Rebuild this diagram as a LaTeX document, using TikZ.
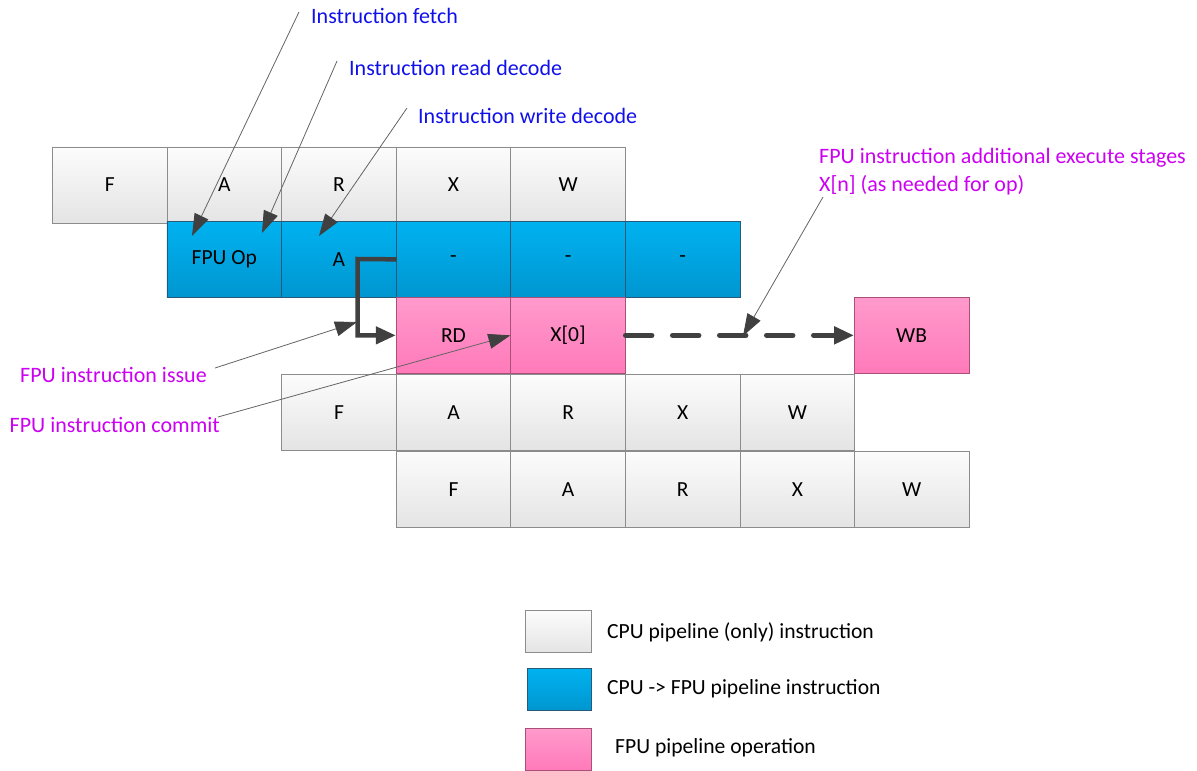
\documentclass[tikz,border=0pt]{standalone}
\usepackage{fontspec}
\setmainfont{Carlito}
\usetikzlibrary{arrows.meta}

\definecolor{cellline}{RGB}{140,140,140}
\definecolor{greytop}{RGB}{252,252,252}
\definecolor{greybot}{RGB}{228,228,228}
\definecolor{bluetop}{RGB}{0,178,240}
\definecolor{bluebot}{RGB}{0,150,208}
\definecolor{blueline}{RGB}{40,90,120}
\definecolor{pinktop}{RGB}{255,154,204}
\definecolor{pinkbot}{RGB}{255,122,186}
\definecolor{pinkline}{RGB}{170,80,120}
\definecolor{stagetxt}{RGB}{16,16,235}
\definecolor{fputxt}{RGB}{204,0,242}
\definecolor{arrowdark}{RGB}{64,64,64}
\definecolor{leader}{RGB}{100,100,100}

\tikzset{
  cellbase/.style={rectangle, inner sep=0pt, minimum width=114.6pt, minimum height=76pt,
                   font=\fontsize{21.5}{26}\selectfont, anchor=north west},
  cpucell/.style={cellbase, draw=cellline, line width=0.9pt, top color=greytop, bottom color=greybot},
  fpuicell/.style={cellbase, draw=blueline, line width=0.7pt, top color=bluetop, bottom color=bluebot},
  fpucell/.style={cellbase, draw=pinkline, line width=0.7pt, top color=pinktop, bottom color=pinkbot},
  stagelabel/.style={text=stagetxt, font=\fontsize{22}{28}\selectfont, inner sep=0pt, anchor=west},
  fpulabel/.style={text=fputxt, font=\fontsize{22}{28}\selectfont, inner sep=0pt},
  legendtxt/.style={font=\fontsize{21.6}{26}\selectfont, inner sep=0pt, anchor=west},
  leaderline/.style={draw=leader, line width=0.8pt,
                     -{Triangle[length=22pt,width=15pt,fill=arrowdark,color=arrowdark]}},
  flowline/.style={draw=arrowdark, line width=4.5pt,
                   -{Triangle[length=20pt,width=17pt,fill=arrowdark,color=arrowdark]}},
  pendingline/.style={draw=arrowdark, line width=5.5pt, line cap=round,
                      dash pattern=on 26pt off 21pt,
                      -{Triangle[length=20pt,width=17pt,fill=arrowdark,color=arrowdark]}},
}

\begin{document}
\begin{tikzpicture}[x=1pt, y=-1pt]
\useasboundingbox (0,0) rectangle (1197,771);

% CPU pipeline: the instruction ahead
\node[cpucell] (aF) at (52,146.5) {F};
\node[cpucell] (aA) at (166.6,146.5) {A};
\node[cpucell] (aR) at (281.2,146.5) {R};
\node[cpucell] (aX) at (395.8,146.5) {X};
\node[cpucell] (aW) at (510.4,146.5) {W};

% CPU -> FPU instruction
\node[fpuicell] (bOp) at (166.6,221) {FPU Op};
\node[fpuicell] (bA)  at (281.2,221) {A};
\node[fpuicell] (b3)  at (395.8,221) {-};
\node[fpuicell] (b4)  at (510.4,221) {-};
\node[fpuicell] (b5)  at (625,221) {-};

% FPU pipeline operation
\node[fpucell] (rd) at (395.8,297) {RD};
\node[fpucell] (x0) at (510.4,297) {X[0]};
\node[fpucell] (wb) at (854,297) {WB};

% following CPU instructions
\node[cpucell] (cF) at (281.2,374) {F};
\node[cpucell] (cA) at (395.8,374) {A};
\node[cpucell] (cR) at (510.4,374) {R};
\node[cpucell] (cX) at (625,374) {X};
\node[cpucell] (cW) at (739.6,374) {W};

\node[cpucell] (dF) at (395.8,451) {F};
\node[cpucell] (dA) at (510.4,451) {A};
\node[cpucell] (dR) at (625,451) {R};
\node[cpucell] (dX) at (739.6,451) {X};
\node[cpucell] (dW) at (854,451) {W};

% issue from the A stage into RD
\coordinate (issuebend) at (357.5,259);
\draw[flowline] (bA.east) -- (issuebend) |- (rd.west);

% additional execute stages up to write back
\draw[pendingline] (x0.east) -- (wb.west);

% stage labels
\node[stagelabel] (lfetch) at (311,16) {Instruction fetch};
\node[stagelabel] (lread)  at (349,68) {Instruction read decode};
\node[stagelabel] (lwrite) at (418,116) {Instruction write decode};

\node[fpulabel, anchor=east] (lissue)  at (207,375) {FPU instruction issue};
\node[fpulabel, anchor=east] (lcommit) at (220,425) {FPU instruction commit};
\node[fpulabel, anchor=west, align=left] (lextra) at (819,172)
  {FPU instruction additional execute stages\\X[n] (as needed for op)};

% leader lines
\coordinate (sfetch) at (299,12);
\coordinate (tfetch) at (192,236);
\coordinate (sread)  at (337,61);
\coordinate (tread)  at (262,233);
\coordinate (swrite) at (407,108);
\coordinate (twrite) at (319,236);
\coordinate (sissue) at (215,368);
\coordinate (tissue) at (357,322);
\coordinate (scommit) at (218,417);
\coordinate (sextra) at (823,197);
\coordinate (textra) at (743,336);

\draw[leaderline] (sfetch) -- (tfetch);
\draw[leaderline] (sread) -- (tread);
\draw[leaderline] (swrite) -- (twrite);
\draw[leaderline] (sissue) -- (tissue);
\draw[leaderline] (scommit) -- (x0.west);
\draw[leaderline] (sextra) -- (textra);

% legend
\node[cpucell, minimum width=66pt, minimum height=42pt] (kcpu) at (525,610) {};
\node[fpuicell, minimum width=64pt, minimum height=42pt] (kfpui) at (527,668) {};
\node[fpucell, minimum width=66pt, minimum height=42pt] (kfpu) at (525,728) {};
\node[legendtxt] (tcpu) at (607,632) {CPU pipeline (only) instruction};
\node[legendtxt] (tfpui) at (607,689) {CPU -> FPU pipeline instruction};
\node[legendtxt] (tfpu) at (615,748) {FPU pipeline operation};
\end{tikzpicture}
\end{document}
